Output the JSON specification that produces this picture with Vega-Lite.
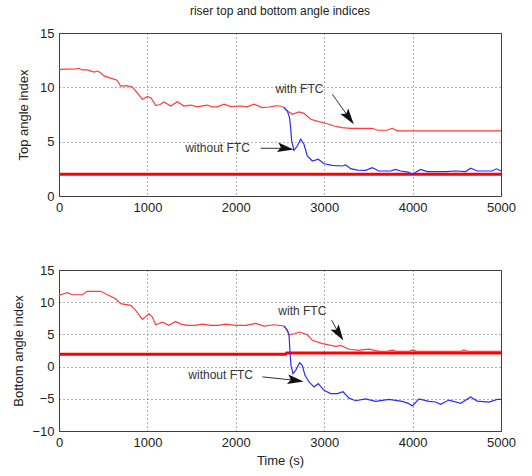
{
  "$schema": "https://vega.github.io/schema/vega-lite/v6.json",
  "padding": {"left": 12, "top": 4, "right": 4, "bottom": 3},
  "background": "white",
  "config": {
    "font": "Liberation Sans",
    "view": {"stroke": "#444", "strokeWidth": 1},
    "axis": {
      "grid": true, "gridColor": "#333", "gridDash": [1, 3], "gridWidth": 1, "gridOpacity": 0.75,
      "domain": false, "ticks": false, "labelFlush": false,
      "labelFont": "Liberation Sans", "labelFontSize": 13, "labelColor": "#222", "labelPadding": 5,
      "titleFont": "Liberation Sans", "titleFontSize": 13, "titleFontWeight": "normal", "titleColor": "#222"
    }
  },
  "datasets": {
    "top": [
      {"s": "limit", "t": 0, "v": 2}, {"s": "limit", "t": 5000, "v": 2},
      {"s": "with", "t": 0, "v": 11.65}, {"s": "with", "t": 200, "v": 11.7}, {"s": "with", "t": 226, "v": 11.75}, {"s": "with", "t": 260, "v": 11.6}, {"s": "with", "t": 320, "v": 11.6}, {"s": "with", "t": 400, "v": 11.4}, {"s": "with", "t": 433, "v": 11.5}, {"s": "with", "t": 460, "v": 11.4}, {"s": "with", "t": 509, "v": 11.05}, {"s": "with", "t": 584, "v": 10.85}, {"s": "with", "t": 656, "v": 10.65}, {"s": "with", "t": 697, "v": 10.12}, {"s": "with", "t": 760, "v": 10.15}, {"s": "with", "t": 827, "v": 10.05}, {"s": "with", "t": 886, "v": 9.5}, {"s": "with", "t": 943, "v": 8.9}, {"s": "with", "t": 999, "v": 9.14}, {"s": "with", "t": 1040, "v": 9.05}, {"s": "with", "t": 1093, "v": 8.35}, {"s": "with", "t": 1140, "v": 8.4}, {"s": "with", "t": 1188, "v": 8.65}, {"s": "with", "t": 1263, "v": 8.28}, {"s": "with", "t": 1338, "v": 8.68}, {"s": "with", "t": 1414, "v": 8.28}, {"s": "with", "t": 1490, "v": 8.37}, {"s": "with", "t": 1565, "v": 8.2}, {"s": "with", "t": 1620, "v": 8.3}, {"s": "with", "t": 1678, "v": 8.37}, {"s": "with", "t": 1730, "v": 8.2}, {"s": "with", "t": 1791, "v": 8.2}, {"s": "with", "t": 1867, "v": 8.45}, {"s": "with", "t": 1942, "v": 8.22}, {"s": "with", "t": 2055, "v": 8.28}, {"s": "with", "t": 2130, "v": 8.2}, {"s": "with", "t": 2206, "v": 8.45}, {"s": "with", "t": 2300, "v": 8.14}, {"s": "with", "t": 2376, "v": 8.19}, {"s": "with", "t": 2451, "v": 8.3}, {"s": "with", "t": 2500, "v": 8.28}, {"s": "with", "t": 2545, "v": 8.14}, {"s": "with", "t": 2583, "v": 7.82}, {"s": "with", "t": 2640, "v": 7.52}, {"s": "with", "t": 2715, "v": 7.73}, {"s": "with", "t": 2771, "v": 7.6}, {"s": "with", "t": 2847, "v": 7.06}, {"s": "with", "t": 2941, "v": 6.84}, {"s": "with", "t": 3035, "v": 6.65}, {"s": "with", "t": 3110, "v": 6.44}, {"s": "with", "t": 3200, "v": 6.3}, {"s": "with", "t": 3299, "v": 6.23}, {"s": "with", "t": 3544, "v": 6.23}, {"s": "with", "t": 3601, "v": 6.05}, {"s": "with", "t": 3714, "v": 6.05}, {"s": "with", "t": 3770, "v": 6.23}, {"s": "with", "t": 3827, "v": 6.0}, {"s": "with", "t": 5000, "v": 6.0},
      {"s": "without", "t": 2545, "v": 8.14}, {"s": "without", "t": 2583, "v": 7.82}, {"s": "without", "t": 2609, "v": 7.2}, {"s": "without", "t": 2620, "v": 6.29}, {"s": "without", "t": 2632, "v": 5.06}, {"s": "without", "t": 2658, "v": 4.2}, {"s": "without", "t": 2696, "v": 4.6}, {"s": "without", "t": 2734, "v": 5.22}, {"s": "without", "t": 2771, "v": 4.76}, {"s": "without", "t": 2809, "v": 3.68}, {"s": "without", "t": 2866, "v": 3.22}, {"s": "without", "t": 2933, "v": 3.38}, {"s": "without", "t": 2998, "v": 2.97}, {"s": "without", "t": 3092, "v": 2.82}, {"s": "without", "t": 3205, "v": 2.76}, {"s": "without", "t": 3243, "v": 2.85}, {"s": "without", "t": 3299, "v": 2.52}, {"s": "without", "t": 3375, "v": 2.39}, {"s": "without", "t": 3469, "v": 2.36}, {"s": "without", "t": 3544, "v": 2.6}, {"s": "without", "t": 3620, "v": 2.3}, {"s": "without", "t": 3750, "v": 2.3}, {"s": "without", "t": 3808, "v": 2.45}, {"s": "without", "t": 3865, "v": 2.3}, {"s": "without", "t": 3950, "v": 2.2}, {"s": "without", "t": 3997, "v": 2.0}, {"s": "without", "t": 4040, "v": 2.2}, {"s": "without", "t": 4091, "v": 2.45}, {"s": "without", "t": 4167, "v": 2.25}, {"s": "without", "t": 4374, "v": 2.25}, {"s": "without", "t": 4487, "v": 2.3}, {"s": "without", "t": 4600, "v": 2.25}, {"s": "without", "t": 4657, "v": 2.55}, {"s": "without", "t": 4732, "v": 2.3}, {"s": "without", "t": 4900, "v": 2.3}, {"s": "without", "t": 4950, "v": 2.5}, {"s": "without", "t": 5000, "v": 2.3}
    ],
    "bot": [
      {"s": "limit", "t": 0, "v": 1.9}, {"s": "limit", "t": 2560, "v": 1.9}, {"s": "limit", "t": 2575, "v": 2.1}, {"s": "limit", "t": 5000, "v": 2.1},
      {"s": "with", "t": 0, "v": 11.0}, {"s": "with", "t": 19, "v": 11.16}, {"s": "with", "t": 94, "v": 11.47}, {"s": "with", "t": 150, "v": 11.16}, {"s": "with", "t": 264, "v": 11.16}, {"s": "with", "t": 320, "v": 11.69}, {"s": "with", "t": 471, "v": 11.69}, {"s": "with", "t": 547, "v": 11.16}, {"s": "with", "t": 641, "v": 10.54}, {"s": "with", "t": 697, "v": 9.77}, {"s": "with", "t": 811, "v": 9.5}, {"s": "with", "t": 867, "v": 8.74}, {"s": "with", "t": 943, "v": 7.34}, {"s": "with", "t": 985, "v": 7.8}, {"s": "with", "t": 1018, "v": 8.21}, {"s": "with", "t": 1056, "v": 7.7}, {"s": "with", "t": 1093, "v": 6.5}, {"s": "with", "t": 1169, "v": 6.9}, {"s": "with", "t": 1244, "v": 6.4}, {"s": "with", "t": 1320, "v": 7.0}, {"s": "with", "t": 1377, "v": 6.6}, {"s": "with", "t": 1452, "v": 6.4}, {"s": "with", "t": 1540, "v": 6.4}, {"s": "with", "t": 1621, "v": 6.6}, {"s": "with", "t": 1716, "v": 6.4}, {"s": "with", "t": 1800, "v": 6.4}, {"s": "with", "t": 1885, "v": 6.6}, {"s": "with", "t": 1999, "v": 6.4}, {"s": "with", "t": 2112, "v": 6.4}, {"s": "with", "t": 2225, "v": 6.7}, {"s": "with", "t": 2319, "v": 6.3}, {"s": "with", "t": 2432, "v": 6.5}, {"s": "with", "t": 2545, "v": 6.3}, {"s": "with", "t": 2583, "v": 5.64}, {"s": "with", "t": 2602, "v": 4.95}, {"s": "with", "t": 2658, "v": 5.1}, {"s": "with", "t": 2723, "v": 5.37}, {"s": "with", "t": 2809, "v": 4.95}, {"s": "with", "t": 2866, "v": 4.08}, {"s": "with", "t": 2979, "v": 3.56}, {"s": "with", "t": 3130, "v": 3.15}, {"s": "with", "t": 3186, "v": 3.3}, {"s": "with", "t": 3281, "v": 2.69}, {"s": "with", "t": 3394, "v": 2.53}, {"s": "with", "t": 3450, "v": 2.65}, {"s": "with", "t": 3507, "v": 2.7}, {"s": "with", "t": 3620, "v": 2.37}, {"s": "with", "t": 3720, "v": 2.4}, {"s": "with", "t": 3771, "v": 2.55}, {"s": "with", "t": 3820, "v": 2.37}, {"s": "with", "t": 3960, "v": 2.37}, {"s": "with", "t": 4000, "v": 2.6}, {"s": "with", "t": 4050, "v": 2.37}, {"s": "with", "t": 4550, "v": 2.37}, {"s": "with", "t": 4580, "v": 2.6}, {"s": "with", "t": 4620, "v": 2.37}, {"s": "with", "t": 5000, "v": 2.37},
      {"s": "without", "t": 2545, "v": 6.3}, {"s": "without", "t": 2583, "v": 5.64}, {"s": "without", "t": 2602, "v": 4.86}, {"s": "without", "t": 2613, "v": 2.27}, {"s": "without", "t": 2624, "v": 0.2}, {"s": "without", "t": 2647, "v": -1.1}, {"s": "without", "t": 2677, "v": -0.58}, {"s": "without", "t": 2722, "v": 0.6}, {"s": "without", "t": 2752, "v": 0.2}, {"s": "without", "t": 2783, "v": -1.35}, {"s": "without", "t": 2828, "v": -2.39}, {"s": "without", "t": 2885, "v": -3.17}, {"s": "without", "t": 2933, "v": -2.65}, {"s": "without", "t": 2998, "v": -3.68}, {"s": "without", "t": 3073, "v": -4.2}, {"s": "without", "t": 3149, "v": -4.2}, {"s": "without", "t": 3213, "v": -3.9}, {"s": "without", "t": 3281, "v": -4.9}, {"s": "without", "t": 3356, "v": -5.3}, {"s": "without", "t": 3469, "v": -5.0}, {"s": "without", "t": 3582, "v": -5.4}, {"s": "without", "t": 3733, "v": -5.1}, {"s": "without", "t": 3884, "v": -5.4}, {"s": "without", "t": 3950, "v": -5.7}, {"s": "without", "t": 3997, "v": -6.1}, {"s": "without", "t": 4072, "v": -5.0}, {"s": "without", "t": 4185, "v": -5.4}, {"s": "without", "t": 4260, "v": -5.5}, {"s": "without", "t": 4317, "v": -5.85}, {"s": "without", "t": 4411, "v": -5.2}, {"s": "without", "t": 4544, "v": -5.7}, {"s": "without", "t": 4657, "v": -4.72}, {"s": "without", "t": 4732, "v": -5.35}, {"s": "without", "t": 4864, "v": -5.5}, {"s": "without", "t": 4958, "v": -5.1}, {"s": "without", "t": 5000, "v": -5.1}
    ],
    "ann": [
      {"p": "top", "label": "with FTC", "t": 2720, "v": 9.85},
      {"p": "top", "label": "without FTC", "t": 1793, "v": 4.42},
      {"p": "bot", "label": "with FTC", "t": 2753, "v": 8.6},
      {"p": "bot", "label": "without FTC", "t": 1829, "v": -1.35}
    ],
    "arr": [
      {"p": "top", "id": "w", "t": 3092, "v": 9.36, "t2": 3281, "v2": 7.2},
      {"p": "top", "id": "wo", "t": 2281, "v": 4.39, "t2": 2564, "v2": 4.39},
      {"p": "bot", "id": "w", "t": 3085, "v": 7.19, "t2": 3167, "v2": 5.1},
      {"p": "bot", "id": "wo", "t": 2300, "v": -1.6, "t2": 2677, "v2": -2.13}
    ]
  },
  "vconcat": [
    {
      "width": 442, "height": 163,
      "title": {"text": "riser top and bottom angle indices", "fontSize": 12, "fontWeight": "normal", "font": "Liberation Sans", "color": "#222", "offset": 9},
      "encoding": {
        "x": {"field": "t", "type": "quantitative", "scale": {"domain": [0, 5000], "nice": false}, "axis": {"values": [0, 1000, 2000, 3000, 4000, 5000], "format": "d", "title": null}},
        "y": {"field": "v", "type": "quantitative", "scale": {"domain": [0, 15], "nice": false}, "axis": {"values": [0, 5, 10, 15], "format": "d", "title": "Top angle index", "titlePadding": 9}}
      },
      "layer": [
        {"data": {"name": "top"}, "transform": [{"filter": "datum.s == 'limit'"}], "mark": {"type": "line", "color": "#ff0000", "strokeWidth": 3}},
        {"data": {"name": "top"}, "transform": [{"filter": "datum.s == 'with'"}], "mark": {"type": "line", "color": "#ff3b3b", "strokeWidth": 1.2}},
        {"data": {"name": "top"}, "transform": [{"filter": "datum.s == 'without'"}], "mark": {"type": "line", "color": "#2b2bff", "strokeWidth": 1.2}},
        {"data": {"name": "arr"}, "transform": [{"filter": "datum.p == 'top'"}], "mark": {"type": "rule", "color": "#333", "strokeWidth": 1}, "encoding": {"x2": {"field": "t2"}, "y2": {"field": "v2"}}},
        {"data": {"name": "arr"}, "transform": [{"filter": "datum.p == 'top' && datum.id == 'w'"}], "mark": {"type": "point", "shape": "M0,-1L0.6,1L0,0.6L-0.6,1Z", "filled": true, "color": "#111", "opacity": 1, "size": 260, "angle": 144}, "encoding": {"x": {"field": "t2", "type": "quantitative"}, "y": {"field": "v2", "type": "quantitative"}}},
        {"data": {"name": "arr"}, "transform": [{"filter": "datum.p == 'top' && datum.id == 'wo'"}], "mark": {"type": "point", "shape": "M0,-1L0.6,1L0,0.6L-0.6,1Z", "filled": true, "color": "#111", "opacity": 1, "size": 260, "angle": 98}, "encoding": {"x": {"field": "t2", "type": "quantitative"}, "y": {"field": "v2", "type": "quantitative"}}},
        {"data": {"name": "ann"}, "transform": [{"filter": "datum.p == 'top'"}], "mark": {"type": "text", "font": "Liberation Sans", "fontSize": 12, "color": "#333"}, "encoding": {"text": {"field": "label"}}}
      ]
    },
    {
      "width": 442, "height": 161,
      "encoding": {
        "x": {"field": "t", "type": "quantitative", "scale": {"domain": [0, 5000], "nice": false}, "axis": {"values": [0, 1000, 2000, 3000, 4000, 5000], "format": "d", "title": "Time (s)", "titlePadding": 5}},
        "y": {"field": "v", "type": "quantitative", "scale": {"domain": [-10, 15], "nice": false}, "axis": {"values": [-10, -5, 0, 5, 10, 15], "format": "d", "title": "Bottom angle index", "titlePadding": 6}}
      },
      "layer": [
        {"data": {"name": "bot"}, "transform": [{"filter": "datum.s == 'limit'"}], "mark": {"type": "line", "color": "#ff0000", "strokeWidth": 3}},
        {"data": {"name": "bot"}, "transform": [{"filter": "datum.s == 'with'"}], "mark": {"type": "line", "color": "#ff3b3b", "strokeWidth": 1.2}},
        {"data": {"name": "bot"}, "transform": [{"filter": "datum.s == 'without'"}], "mark": {"type": "line", "color": "#2b2bff", "strokeWidth": 1.2}},
        {"data": {"name": "arr"}, "transform": [{"filter": "datum.p == 'bot'"}], "mark": {"type": "rule", "color": "#333", "strokeWidth": 1}, "encoding": {"x2": {"field": "t2"}, "y2": {"field": "v2"}}},
        {"data": {"name": "arr"}, "transform": [{"filter": "datum.p == 'bot' && datum.id == 'w'"}], "mark": {"type": "point", "shape": "M0,-1L0.6,1L0,0.6L-0.6,1Z", "filled": true, "color": "#111", "opacity": 1, "size": 260, "angle": 147}, "encoding": {"x": {"field": "t2", "type": "quantitative"}, "y": {"field": "v2", "type": "quantitative"}}},
        {"data": {"name": "arr"}, "transform": [{"filter": "datum.p == 'bot' && datum.id == 'wo'"}], "mark": {"type": "point", "shape": "M0,-1L0.6,1L0,0.6L-0.6,1Z", "filled": true, "color": "#111", "opacity": 1, "size": 260, "angle": 98}, "encoding": {"x": {"field": "t2", "type": "quantitative"}, "y": {"field": "v2", "type": "quantitative"}}},
        {"data": {"name": "ann"}, "transform": [{"filter": "datum.p == 'bot'"}], "mark": {"type": "text", "font": "Liberation Sans", "fontSize": 12, "color": "#333"}, "encoding": {"text": {"field": "label"}}}
      ]
    }
  ],
  "spacing": 48
}
